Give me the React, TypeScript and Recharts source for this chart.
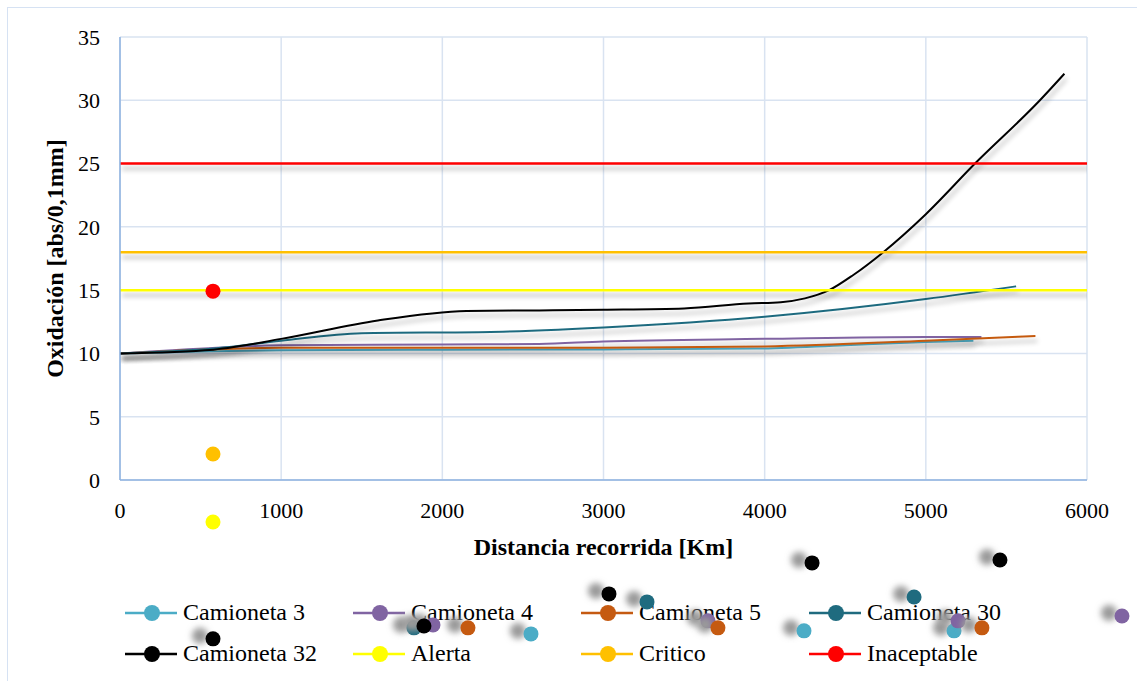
import { CartesianGrid, ComposedChart, Line, Scatter, XAxis, YAxis } from "recharts";

// Oxidación medida por vehículo según los km recorridos
const camioneta3 = [
  { km: 0, ox: 10 },
  { km: 500, ox: 10.15 },
  { km: 1000, ox: 10.25 },
  { km: 2000, ox: 10.3 },
  { km: 3000, ox: 10.32 },
  { km: 3950, ox: 10.38 },
  { km: 4500, ox: 10.65 },
  { km: 5000, ox: 10.9 },
  { km: 5295, ox: 11.0 }
];

const camioneta4 = [
  { km: 0, ox: 10 },
  { km: 600, ox: 10.45 },
  { km: 1000, ox: 10.65 },
  { km: 2000, ox: 10.7 },
  { km: 2600, ox: 10.75 },
  { km: 3000, ox: 10.95 },
  { km: 4000, ox: 11.15 },
  { km: 5000, ox: 11.3 },
  { km: 5345, ox: 11.3 }
];

const camioneta5 = [
  { km: 0, ox: 10 },
  { km: 1000, ox: 10.45 },
  { km: 2000, ox: 10.45 },
  { km: 3000, ox: 10.45 },
  { km: 4000, ox: 10.55 },
  { km: 5000, ox: 11.0 },
  { km: 5680, ox: 11.37 }
];

const camioneta30 = [
  { km: 0, ox: 10 },
  { km: 600, ox: 10.4 },
  { km: 1000, ox: 11.0 },
  { km: 1500, ox: 11.6 },
  { km: 2300, ox: 11.7 },
  { km: 3000, ox: 12.05 },
  { km: 4000, ox: 12.9 },
  { km: 5000, ox: 14.3 },
  { km: 5560, ox: 15.3 }
];

const camioneta32 = [
  { km: 0, ox: 10 },
  { km: 580, ox: 10.3 },
  { km: 1000, ox: 11.15 },
  { km: 1600, ox: 12.6 },
  { km: 2150, ox: 13.35 },
  { km: 2600, ox: 13.4 },
  { km: 3000, ox: 13.45 },
  { km: 3500, ox: 13.55 },
  { km: 3900, ox: 13.95 },
  { km: 4100, ox: 14.05 },
  { km: 4250, ox: 14.35 },
  { km: 4400, ox: 15.0 },
  { km: 4550, ox: 16.2 },
  { km: 4736, ox: 18 },
  { km: 5000, ox: 21 },
  { km: 5305, ox: 25 },
  { km: 5708, ox: 30 },
  { km: 5860, ox: 32.1 }
];

// Límites de referencia
const alerta = [
  { km: 0, ox: 15 },
  { km: 6000, ox: 15 }
];
const critico = [
  { km: 0, ox: 18 },
  { km: 6000, ox: 18 }
];
const inaceptable = [
  { km: 0, ox: 25 },
  { km: 6000, ox: 25 }
];

// Marcadores sueltos
const sueltos = [
  { km: 577, ox: 14.92, color: "#FF0000" },
  { km: 577, ox: 2.05, color: "#FFC000" },
  { km: 577, ox: -3.32, color: "#FFFF00" },
  { km: 577, ox: -12.55, color: "#000000" },
  { km: 1824, ox: -11.68, color: "#1F6B7F" },
  { km: 1942, ox: -11.45, color: "#8064A2" },
  { km: 1886, ox: -11.53, color: "#000000" },
  { km: 2159, ox: -11.68, color: "#C55A11" },
  { km: 2550, ox: -12.16, color: "#4BACC6" },
  { km: 3034, ox: -9.0, color: "#000000" },
  { km: 3270, ox: -9.63, color: "#1F6B7F" },
  { km: 3648, ox: -11.13, color: "#8064A2" },
  { km: 3710, ox: -11.68, color: "#C55A11" },
  { km: 4244, ox: -11.92, color: "#4BACC6" },
  { km: 4294, ox: -6.55, color: "#000000" },
  { km: 4927, ox: -9.24, color: "#1F6B7F" },
  { km: 5175, ox: -11.92, color: "#4BACC6" },
  { km: 5200, ox: -11.13, color: "#8064A2" },
  { km: 5348, ox: -11.68, color: "#C55A11" },
  { km: 5460, ox: -6.32, color: "#000000" },
  { km: 6217, ox: -10.74, color: "#8064A2" }
];

const xTicks = [0, 1000, 2000, 3000, 4000, 5000, 6000];
const yTicks = [0, 5, 10, 15, 20, 25, 30, 35];

const series = [
  { name: "Camioneta 3", data: camioneta3, color: "#4BACC6", width: 2 },
  { name: "Camioneta 4", data: camioneta4, color: "#8064A2", width: 2 },
  { name: "Camioneta 5", data: camioneta5, color: "#C55A11", width: 2 },
  { name: "Camioneta 30", data: camioneta30, color: "#1F6B7F", width: 2 },
  { name: "Camioneta 32", data: camioneta32, color: "#000000", width: 2 },
  { name: "Alerta", data: alerta, color: "#FFFF00", width: 2.5 },
  { name: "Critico", data: critico, color: "#FFC000", width: 2.5 },
  { name: "Inaceptable", data: inaceptable, color: "#FF0000", width: 2.5 }
];

const FONT = "'Liberation Serif', 'Times New Roman', serif";

const css = `
body { margin: 0; }
.recharts-line-curve { filter: url(#lineShadow); }
.recharts-scatter { clip-path: none !important; }
`;

function Marker(props: any) {
  const { cx, cy, payload } = props;
  // los marcadores bajo el eje llevan una sombra desplazada a la izquierda
  const sombra = payload.ox < -5;
  return (
    <g>
      {sombra && <circle cx={cx - 13} cy={cy - 3} r={8} fill="#9a9a9a" filter="url(#dotShadow)" />}
      <circle cx={cx} cy={cy} r={7.5} fill={payload.color} />
    </g>
  );
}

function YTitle(props: any) {
  const { viewBox } = props;
  const x = viewBox.x + 55;
  const y = viewBox.y + viewBox.height / 2;
  return (
    <text
      x={x}
      y={y}
      transform={`rotate(-90, ${x}, ${y})`}
      textAnchor="middle"
      dominantBaseline="central"
      fontFamily={FONT}
      fontSize={24}
      fontWeight="bold"
      fill="#000"
    >
      Oxidación [abs/0,1mm]
    </text>
  );
}

function Leyenda() {
  return (
    <div
      style={{
        position: "absolute",
        left: 125,
        top: 592,
        display: "grid",
        gridTemplateColumns: "repeat(4, 228px)",
        gridAutoRows: "41px",
        fontFamily: FONT,
        fontSize: 24,
        color: "#000"
      }}
    >
      {series.map((s) => (
        <div key={s.name} style={{ display: "flex", alignItems: "center", whiteSpace: "nowrap" }}>
          <svg width={52} height={20} style={{ flex: "none" }}>
            <line x1={0} y1={10} x2={52} y2={10} stroke={s.color} strokeWidth={2.5} />
            <circle cx={27} cy={10} r={8} fill={s.color} />
          </svg>
          <span style={{ marginLeft: 6 }}>{s.name}</span>
        </div>
      ))}
    </div>
  );
}

export default function App() {
  return (
    <div style={{ position: "relative", width: 1137, height: 681, overflow: "hidden", background: "#fff" }}>
      <style>{css}</style>
      <div
        style={{
          position: "absolute",
          left: 7,
          top: 7,
          width: 1140,
          height: 690,
          border: "1.5px solid #D6E2F3"
        }}
      />
      <Leyenda />
      <div style={{ position: "absolute", left: 0, top: 0 }}>
        <ComposedChart width={1137} height={681} margin={{ top: 37, right: 50, left: 0, bottom: 111 }}>
          <defs>
            <filter id="lineShadow" filterUnits="userSpaceOnUse" x={0} y={0} width={1137} height={681}>
              <feGaussianBlur in="SourceAlpha" stdDeviation={2.5} />
              <feOffset dx={2} dy={5} result="blur" />
              <feComponentTransfer>
                <feFuncA type="linear" slope={0.3} />
              </feComponentTransfer>
              <feMerge>
                <feMergeNode />
                <feMergeNode in="SourceGraphic" />
              </feMerge>
            </filter>
            <filter id="dotShadow" filterUnits="userSpaceOnUse" x={0} y={0} width={1137} height={681}>
              <feGaussianBlur stdDeviation={3} />
            </filter>
          </defs>
          <CartesianGrid stroke="#D9E3F1" strokeWidth={1.5} />
          <XAxis
            type="number"
            dataKey="km"
            domain={[0, 6000]}
            ticks={xTicks}
            allowDataOverflow
            height={90}
            tickLine={false}
            tickSize={6}
            tickMargin={16}
            axisLine={{ stroke: "#8EB2E0", strokeWidth: 1.5 }}
            tick={{ fill: "#000", fontSize: 22, fontFamily: FONT }}
            label={{
              value: "Distancia recorrida [Km]",
              position: "insideTop",
              offset: 58,
              style: { fontFamily: FONT, fontSize: 24, fontWeight: "bold", fill: "#000" }
            }}
          />
          <YAxis
            type="number"
            domain={[0, 35]}
            ticks={yTicks}
            allowDataOverflow
            width={120}
            tickLine={false}
            tickSize={6}
            tickMargin={14}
            axisLine={{ stroke: "#8EB2E0", strokeWidth: 1.5 }}
            tick={{ fill: "#000", fontSize: 22, fontFamily: FONT }}
            label={<YTitle />}
          />
          {series.map((s) => (
            <Line
              key={s.name}
              name={s.name}
              data={s.data}
              dataKey="ox"
              type="monotone"
              stroke={s.color}
              strokeWidth={s.width}
              dot={false}
              activeDot={false}
              isAnimationActive={false}
            />
          ))}
          <Scatter data={sueltos} dataKey="ox" shape={<Marker />} isAnimationActive={false} />
        </ComposedChart>
      </div>
    </div>
  );
}
